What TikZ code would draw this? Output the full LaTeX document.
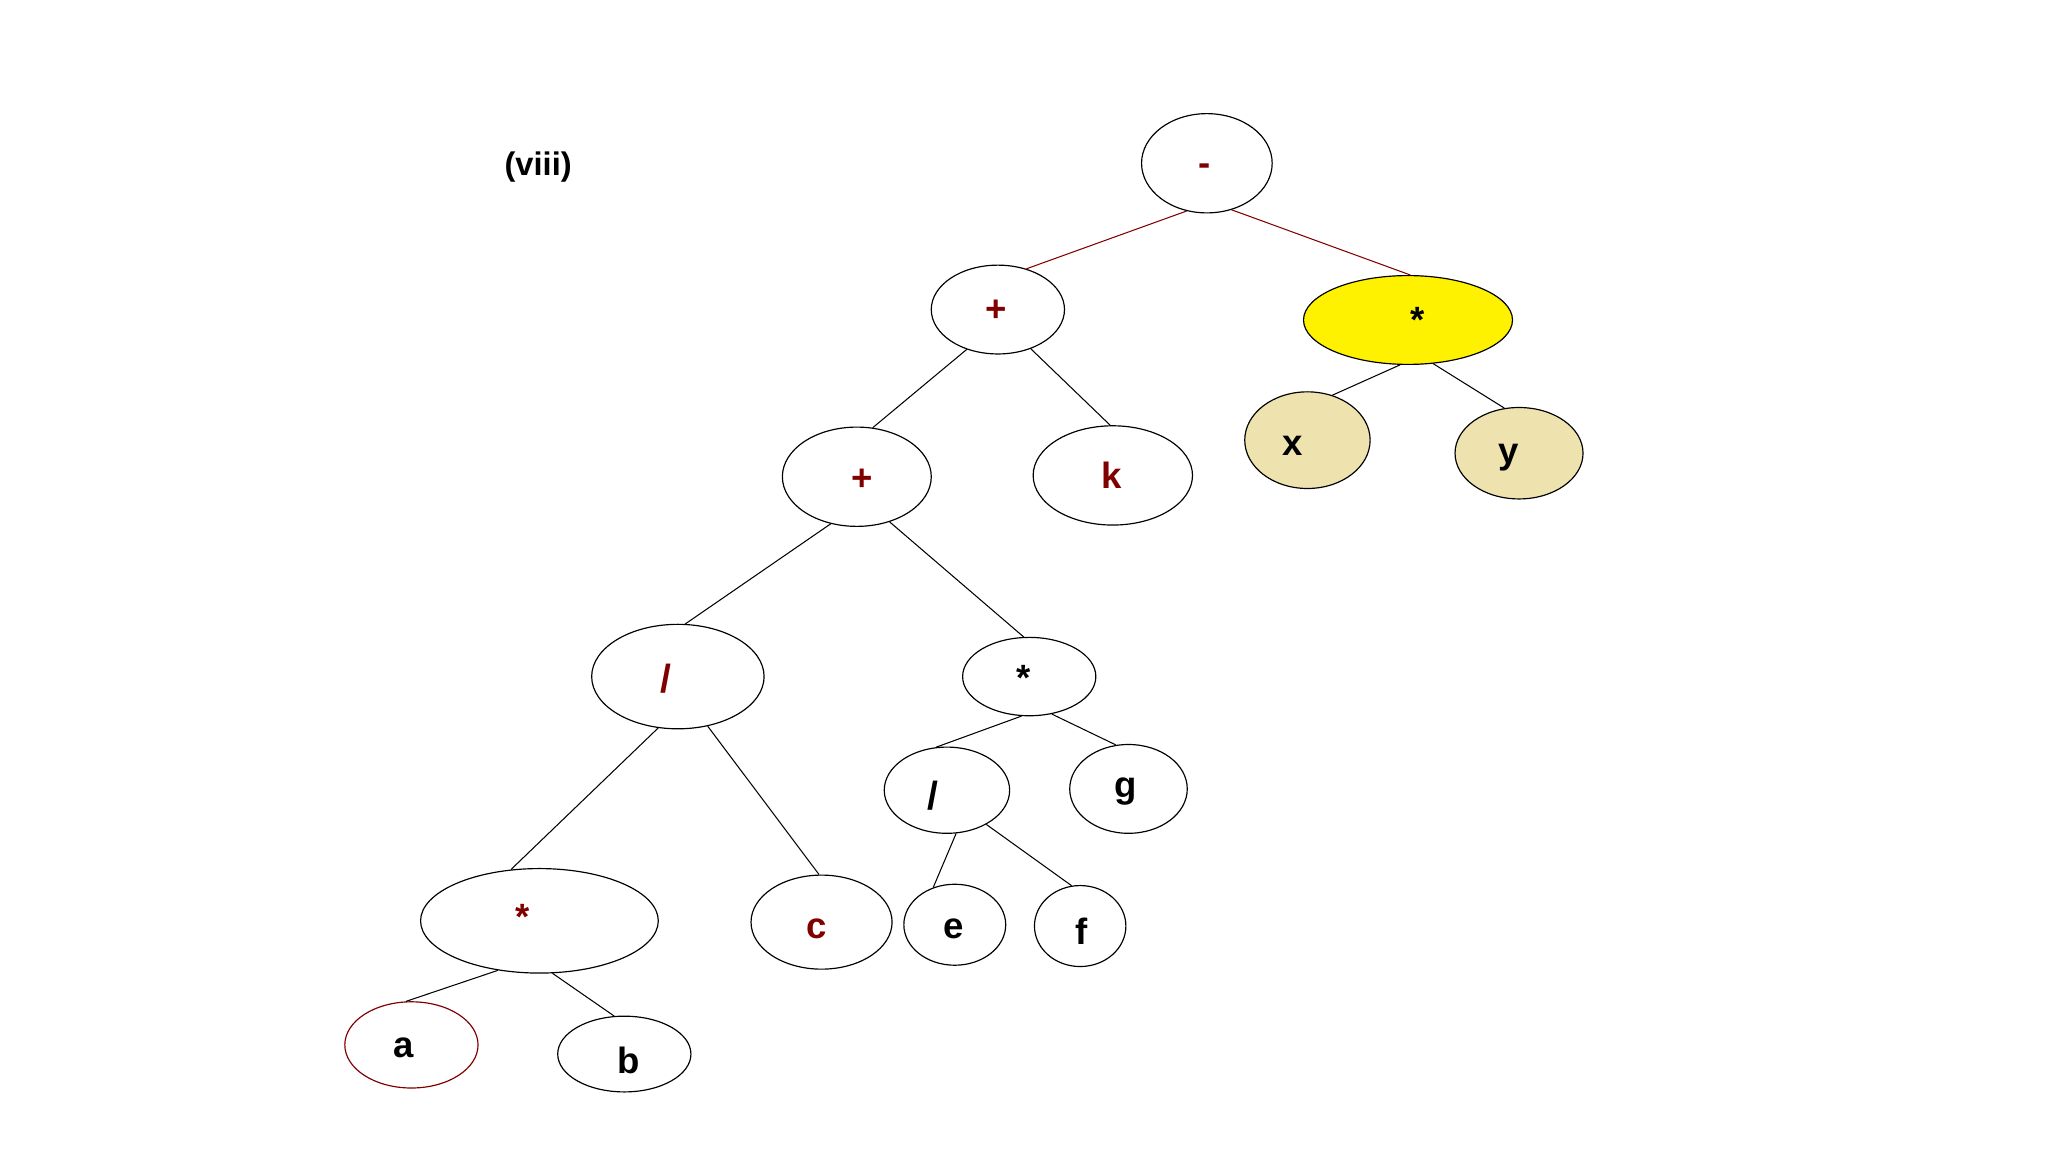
\documentclass[tikz,border=0pt]{standalone}
\usepackage{fontspec}
\setmainfont{Liberation Sans}
\usetikzlibrary{shapes.geometric}
\definecolor{dred}{RGB}{128,0,0}
\definecolor{ylw}{RGB}{255,242,0}
\definecolor{beige}{RGB}{238,227,175}
\begin{document}
\begin{tikzpicture}[x=1pt,y=-1pt,
  nd/.style={ellipse,draw=black,line width=0.9pt,inner sep=0pt},
  lab/.style={font=\fontsize{28}{28}\selectfont\bfseries,inner sep=0pt},
  labr/.style={lab,text=dred},
  slash/.style={font=\fontsize{30}{30}\selectfont\bfseries,inner sep=0pt},
  edge/.style={line width=0.8pt,draw=black},
  redge/.style={line width=0.8pt,draw=dred}]
\useasboundingbox (0,0) rectangle (1568,882);
\node[font=\fontsize{25}{25}\selectfont\bfseries] (title) at (412,128) {(viii)};
% nodes
\node[nd,minimum width=100pt,minimum height=76pt,label={[labr,xshift=-2pt,yshift=-5pt]center:-}] (root) at (924,125) {};
\node[nd,minimum width=102pt,minimum height=68pt,label={[labr,xshift=-1pt,yshift=-1pt]center:+}] (p1) at (764,237) {};
\node[nd,fill=ylw,minimum width=160pt,minimum height=68pt,label={[lab,xshift=7pt,yshift=0pt]center:*}] (ym) at (1078,245) {};
\node[nd,minimum width=114pt,minimum height=76pt,label={[labr,xshift=4pt,yshift=-2pt]center:+}] (p2) at (656,365) {};
\node[nd,minimum width=122pt,minimum height=76pt,label={[labr,xshift=-1pt,yshift=0pt]center:k}] (k) at (852,364) {};
\node[nd,fill=beige,minimum width=96pt,minimum height=74pt,label={[lab,xshift=-11pt,yshift=-4pt]center:x}] (x) at (1001,337) {};
\node[nd,fill=beige,minimum width=98pt,minimum height=70pt,label={[lab,xshift=-8pt,yshift=-3pt]center:y}] (y) at (1163,347) {};
\node[nd,minimum width=132pt,minimum height=80pt,label={[slash,text=dred,xshift=-9pt,yshift=-2pt]center:/}] (d1) at (519,518) {};
\node[nd,minimum width=102pt,minimum height=60pt,label={[lab,xshift=-4pt,yshift=-1pt]center:*}] (m2) at (788,518) {};
\node[nd,minimum width=96pt,minimum height=66pt,label={[slash,xshift=-11pt,yshift=-4pt]center:/}] (d2) at (725,605) {};
\node[nd,minimum width=90pt,minimum height=68pt,label={[lab,xshift=-2pt,yshift=-2pt]center:g}] (g) at (864,604) {};
\node[nd,minimum width=182pt,minimum height=80pt,label={[labr,xshift=-13pt,yshift=3pt]center:*}] (m3) at (413,705) {};
\node[nd,minimum width=108pt,minimum height=72pt,label={[labr,xshift=-4pt,yshift=-5pt]center:c}] (c) at (629,706) {};
\node[nd,minimum width=78pt,minimum height=62pt,label={[lab,xshift=-1pt,yshift=-3pt]center:e}] (e) at (731,708) {};
\node[nd,minimum width=70pt,minimum height=62pt,label={[lab,xshift=1pt,yshift=-4pt]center:f}] (f) at (827,709) {};
\node[nd,draw=dred,minimum width=102pt,minimum height=66pt,label={[lab,xshift=-6pt,yshift=-2pt]center:a}] (a) at (315,800) {};
\node[nd,minimum width=102pt,minimum height=58pt,label={[lab,xshift=3pt,yshift=-5pt]center:b}] (b) at (478,807) {};
% edges
\draw[redge] (root.-113) -- (p1.55);
\draw[redge] (root.-62) -- (ym.87);
\draw[edge] (p1.-128) -- (p2.72);
\draw[edge] (p1.-50) -- (k.93);
\draw[edge] (ym.-100) -- (x.61);
\draw[edge] (ym.-60) -- (y.108);
\draw[edge] (p2.-119) -- (d1.82);
\draw[edge] (p2.-54) -- (m2.98);
\draw[edge] (d1.-111) -- (m3.119);
\draw[edge] (d1.-59) -- (c.93);
\draw[edge] (m2.-101) -- (d2.104);
\draw[edge] (m2.-59) -- (g.106);
\draw[edge] (d2.-78) -- (e.120);
\draw[edge] (d2.-41) -- (f.102);
\draw[edge] (m3.-130) -- (a.97);
\draw[edge] (m3.-76) -- (b.105);
\end{tikzpicture}
\end{document}
